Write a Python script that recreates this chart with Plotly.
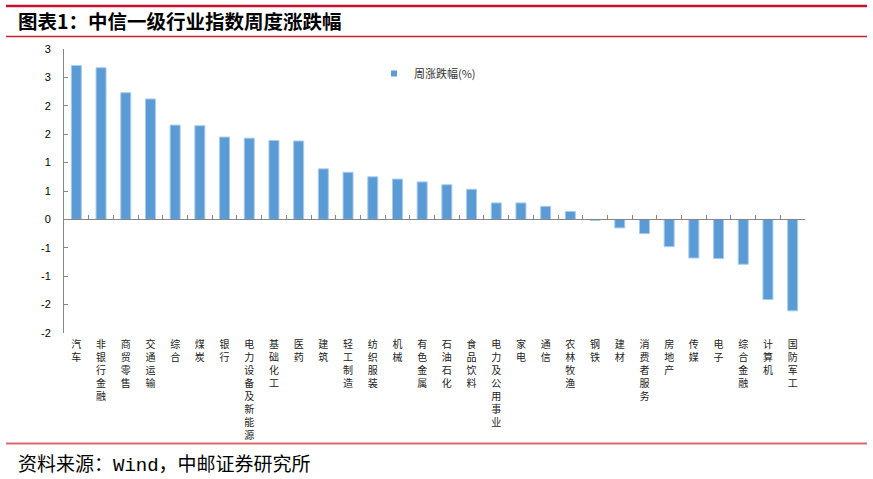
import plotly.graph_objects as go

categories = ["汽车", "非银行金融", "商贸零售", "交通运输", "综合", "煤炭", "银行",
              "电力设备及新能源", "基础化工", "医药", "建筑", "轻工制造", "纺织服装",
              "机械", "有色金属", "石油石化", "食品饮料", "电力及公用事业", "家电",
              "通信", "农林牧渔", "钢铁", "建材", "消费者服务", "房地产", "传媒",
              "电子", "综合金融", "计算机", "国防军工"]
weekly_change = [2.71, 2.67, 2.23, 2.12, 1.66, 1.65, 1.45, 1.43, 1.39, 1.38,
                 0.89, 0.83, 0.75, 0.71, 0.66, 0.61, 0.53, 0.29, 0.29, 0.23,
                 0.14, -0.02, -0.15, -0.25, -0.48, -0.68, -0.69, -0.79, -1.41, -1.61]
series_name = "周涨跌幅(%)"
y_tickvals = [-2, -1.5, -1, -0.5, 0, 0.5, 1, 1.5, 2, 2.5, 3]
y_ticktext = ["-2", "-2", "-1", "-1", "0", "1", "1", "2", "2", "3", "3"]
title_text = "图表1：中信一级行业指数周度涨跌幅"
source_text = "资料来源：Wind，中邮证券研究所"

W, H = 873, 479
L, R, T, B = 64, 68, 49, 146
PW, PH = W - L - R, H - T - B
YMIN, YMAX = -2, 3


def px_x(x):
    return (x - L) / PW


def px_y(y):
    return (H - B - y) / PH


vert_labels = ["<br>".join(list(c)) for c in categories]

fig = go.Figure()
fig.add_trace(go.Bar(
    x=categories, y=weekly_change, name=series_name, showlegend=False,
    marker=dict(color="#5B9BD5", line=dict(color="#A9CBEB", width=1)),
    xaxis="x", yaxis="y",
))
# legend entry
fig.add_trace(go.Scatter(
    x=[None], y=[None], mode="markers", name=series_name,
    marker=dict(symbol="square", size=6, color="#5B9BD5"),
    xaxis="x", yaxis="y",
))
# invisible trace carrying the bottom category labels
fig.add_trace(go.Scatter(
    x=categories, y=weekly_change, mode="markers", showlegend=False,
    marker=dict(opacity=0), hoverinfo="skip", xaxis="x2", yaxis="y",
))

zero_pos = (0 - YMIN) / (YMAX - YMIN)

fig.update_layout(
    template="none",
    width=W, height=H,
    margin=dict(l=L, r=R, t=T, b=B, autoexpand=False),
    paper_bgcolor="white", plot_bgcolor="white",
    bargap=0.595,
    font=dict(family="Noto Sans CJK SC", color="#000000"),
    xaxis=dict(
        type="category", categoryorder="array", categoryarray=categories,
        anchor="free", position=zero_pos, side="bottom",
        showline=True, linecolor="#868686", linewidth=1,
        ticks="inside", tickson="boundaries", ticklen=4, tickcolor="#868686",
        showticklabels=False, showgrid=False, zeroline=False,
        range=[-0.5, len(categories) - 0.5], automargin=False,
    ),
    xaxis2=dict(
        type="category", categoryorder="array", categoryarray=categories,
        overlaying="x", matches="x", anchor="y", side="bottom",
        showline=False, ticks="", showgrid=False, zeroline=False,
        tickmode="array", tickvals=categories, ticktext=vert_labels,
        tickangle=0, ticklabelstandoff=4, automargin=False,
        tickfont=dict(family="Noto Sans CJK SC", size=10, color="#222222"),
    ),
    yaxis=dict(
        range=[YMIN, YMAX], tickmode="array", tickvals=y_tickvals, ticktext=y_ticktext,
        showline=True, linecolor="#868686", linewidth=1,
        ticks="inside", ticklen=4, tickcolor="#868686",
        showgrid=False, zeroline=False, ticklabelstandoff=10, automargin=False,
        tickfont=dict(family="Liberation Sans", size=11, color="#000000"),
    ),
    legend=dict(
        x=px_x(374), y=px_y(59), xanchor="left", yanchor="top",
        bgcolor="rgba(0,0,0,0)", font=dict(family="Noto Sans CJK SC", size=11, color="#333333"),
        itemwidth=30,
    ),
    title=dict(
        text="<b>" + title_text + "</b>", xref="container", yref="container",
        x=18 / W, xanchor="left", y=(H - 22) / H, yanchor="middle",
        font=dict(family="Noto Sans CJK SC", size=19.5, color="#000000"),
    ),
    showlegend=True,
)

fig.add_annotation(
    text=source_text, xref="paper", yref="paper",
    x=px_x(16), y=px_y(465), xanchor="left", yanchor="middle", showarrow=False,
    font=dict(family="Liberation Mono, Noto Sans CJK SC", size=19, color="#000000"),
)

fig.add_shape(type="line", xref="paper", yref="paper",
              x0=px_x(6), x1=px_x(867), y0=px_y(6), y1=px_y(6),
              line=dict(color="#C8102E", width=2.5))
fig.add_shape(type="line", xref="paper", yref="paper",
              x0=px_x(6), x1=px_x(867), y0=px_y(36.5), y1=px_y(36.5),
              line=dict(color="#C8202E", width=1.5))
fig.add_shape(type="line", xref="paper", yref="paper",
              x0=px_x(6), x1=px_x(867), y0=px_y(443.5), y1=px_y(443.5),
              line=dict(color="#D96A6A", width=2))

fig.write_html(
    "out.html",
    config={"displayModeBar": False},
    post_script="document.body.style.margin='0';document.body.style.padding='0';",
)
